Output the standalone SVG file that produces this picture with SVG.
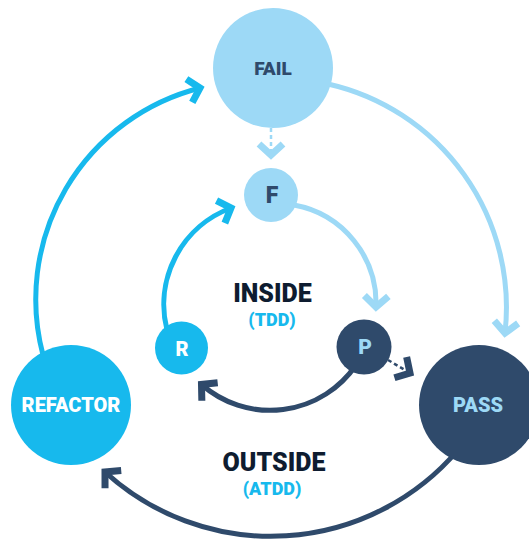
<svg xmlns="http://www.w3.org/2000/svg" width="529" height="544" viewBox="0 0 529 544">
  <style>
    .lbl { font-family: Roboto, "Liberation Sans", Arial, sans-serif; font-weight: 900; text-anchor: middle; }
    .arc { fill: none; stroke-width: 5; }
    .dash { fill: none; stroke-width: 2.5; stroke-dasharray: 4 3; }
    .cyan { stroke: #17b9ed; }
    .light { stroke: #9dd9f6; }
    .navy { stroke: #2f4a6b; }
  </style>
  <defs>
    <marker id="chev-cyan" markerUnits="userSpaceOnUse" markerWidth="40" markerHeight="40" viewBox="-20 -20 40 40" refX="0" refY="0" orient="auto">
      <path d="M -11,-12 L 0,0 L -11,12" fill="none" stroke="#17b9ed" stroke-width="7" stroke-linejoin="miter"/>
    </marker>
    <marker id="chev-light" markerUnits="userSpaceOnUse" markerWidth="40" markerHeight="40" viewBox="-20 -20 40 40" refX="0" refY="0" orient="auto">
      <path d="M -11,-12 L 0,0 L -11,12" fill="none" stroke="#9dd9f6" stroke-width="7" stroke-linejoin="miter"/>
    </marker>
    <marker id="chev-navy" markerUnits="userSpaceOnUse" markerWidth="40" markerHeight="40" viewBox="-20 -20 40 40" refX="0" refY="0" orient="auto">
      <path d="M -11,-12 L 0,0 L -11,12" fill="none" stroke="#2f4a6b" stroke-width="7" stroke-linejoin="miter"/>
    </marker>
  </defs>

  <g id="connectors">
    <!-- outer loop -->
    <path class="arc cyan" d="M 43,355 A 218 218 0 0 1 200,88" marker-end="url(#chev-cyan)"/>
    <path class="arc light" d="M 328,84 A 229 229 0 0 1 505,333" marker-end="url(#chev-light)"/>
    <path class="arc navy" d="M 458,450 A 246 246 0 0 1 105,472" marker-end="url(#chev-navy)"/>
    <!-- inner loop -->
    <path class="arc cyan" d="M 167,330 A 103 103 0 0 1 231,208" marker-end="url(#chev-cyan)"/>
    <path class="arc light" d="M 294,205 A 100 100 0 0 1 376,307" marker-end="url(#chev-light)"/>
    <path class="arc navy" d="M 356,365 A 104 104 0 0 1 201.5,384.5" marker-end="url(#chev-navy)"/>
    <!-- dashed links -->
    <path class="dash light" d="M 271,128 L 271,155" marker-end="url(#chev-light)"/>
    <path class="dash navy" d="M 388,360 L 410,373" marker-end="url(#chev-navy)"/>
  </g>

  <g id="node-fail">
    <circle cx="273" cy="68" r="60" fill="#9dd9f6"/>
    <text class="lbl" x="273" y="75" font-size="19" fill="#2f4a6b">FAIL</text>
  </g>
  <g id="node-f">
    <circle cx="271" cy="195" r="27" fill="#9dd9f6"/>
    <text class="lbl" x="272" y="203" font-size="23" fill="#2f4a6b">F</text>
  </g>
  <g id="node-r">
    <circle cx="181.5" cy="348" r="26.5" fill="#17b9ed"/>
    <text class="lbl" x="182" y="356" font-size="20" fill="#ffffff">R</text>
  </g>
  <g id="node-p">
    <circle cx="364" cy="347" r="27.5" fill="#2f4a6b"/>
    <text class="lbl" x="365" y="354" font-size="21" fill="#9dd9f6">P</text>
  </g>
  <g id="node-refactor">
    <circle cx="71" cy="405" r="60" fill="#17b9ed"/>
    <text class="lbl" x="71" y="412" font-size="20" fill="#ffffff">REFACTOR</text>
  </g>
  <g id="node-pass">
    <circle cx="479" cy="405" r="60" fill="#2f4a6b"/>
    <text class="lbl" x="478" y="412" font-size="20" fill="#9dd9f6">PASS</text>
  </g>

  <g id="label-inside">
    <text class="lbl" x="272.5" y="302" font-size="25" fill="#0e1c30">INSIDE</text>
    <text class="lbl" x="272" y="326" font-size="18" fill="#17b9ed">(TDD)</text>
  </g>
  <g id="label-outside">
    <text class="lbl" x="274" y="471" font-size="25" fill="#0e1c30">OUTSIDE</text>
    <text class="lbl" x="272" y="495" font-size="18" fill="#17b9ed">(ATDD)</text>
  </g>
</svg>
